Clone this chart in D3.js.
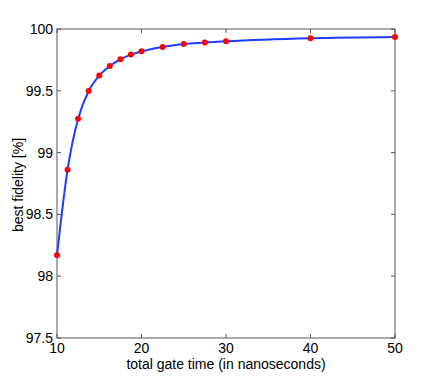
<!DOCTYPE html>
<html>
<head>
<meta charset="utf-8">
<script src="https://cdn.jsdelivr.net/npm/d3@7"></script>
<style>
body { margin: 0; background: #fff; }
text { font-family: "Liberation Sans", Arial, sans-serif; font-size: 14px; fill: #000; }
</style>
</head>
<body>
<script>
(function(){

//data
var gateTimes = [10, 11.25, 12.5, 13.75, 15, 16.25, 17.5, 18.75, 20, 22.5, 25, 27.5, 30, 40, 50];
var fidelity = [98.17, 98.862, 99.274, 99.498, 99.623, 99.70, 99.755, 99.793, 99.819, 99.854, 99.879, 99.89, 99.90, 99.925, 99.935];
var xTicks = [10, 20, 30, 40, 50];
var yTicks = [97.5, 98, 98.5, 99, 99.5, 100];

window.onload = drawChart();

function drawChart(){

    var width = 436,
        height = 381;

    var left = 57, right = 395, top = 29, bottom = 338;

    var svg = d3.select("body")
        .append("svg")
        .attr("width", width)
        .attr("height", height);

    var x = d3.scaleLinear().domain([10, 50]).range([left, right]);
    var y = d3.scaleLinear().domain([97.5, 100]).range([bottom, top]);

    var axisColor = "#555";

    //frame
    svg.append("rect")
        .attr("x", left)
        .attr("y", top)
        .attr("width", right - left)
        .attr("height", bottom - top)
        .attr("fill", "none")
        .attr("stroke", axisColor)
        .attr("stroke-width", 1);

    //inward ticks, all four sides
    xTicks.forEach(function(t){
        svg.append("line").attr("x1", x(t)).attr("x2", x(t)).attr("y1", bottom).attr("y2", bottom - 4).attr("stroke", axisColor);
        svg.append("line").attr("x1", x(t)).attr("x2", x(t)).attr("y1", top).attr("y2", top + 4).attr("stroke", axisColor);
        svg.append("text")
            .attr("x", x(t))
            .attr("y", bottom + 15)
            .attr("text-anchor", "middle")
            .text(t);
    });
    yTicks.forEach(function(t){
        svg.append("line").attr("x1", left).attr("x2", left + 4).attr("y1", y(t)).attr("y2", y(t)).attr("stroke", axisColor);
        svg.append("line").attr("x1", right).attr("x2", right - 4).attr("y1", y(t)).attr("y2", y(t)).attr("stroke", axisColor);
        svg.append("text")
            .attr("x", left - 4)
            .attr("y", y(t) + 5)
            .attr("text-anchor", "end")
            .text(t);
    });

    //axis labels
    svg.append("text")
        .attr("x", (left + right) / 2)
        .attr("y", 369)
        .attr("text-anchor", "middle")
        .text("total gate time (in nanoseconds)");

    svg.append("text")
        .attr("transform", "translate(23," + 185 + ") rotate(-90)")
        .attr("text-anchor", "middle")
        .text("best fidelity [%]");

    var data = gateTimes.map(function(d, i){ return [d, fidelity[i]]; });

    var line = d3.line()
        .x(function(d){ return x(d[0]); })
        .y(function(d){ return y(d[1]); })
        .curve(d3.curveMonotoneX);

    svg.append("path")
        .datum(data)
        .attr("d", line)
        .attr("fill", "none")
        .attr("stroke", "#1f3cff")
        .attr("stroke-width", 2);

    svg.selectAll(".pt")
        .data(data)
        .enter()
        .append("circle")
        .attr("class", "pt")
        .attr("cx", function(d){ return x(d[0]); })
        .attr("cy", function(d){ return y(d[1]); })
        .attr("r", 3)
        .attr("fill", "#ff0000");
};

})();
</script>
</body>
</html>
